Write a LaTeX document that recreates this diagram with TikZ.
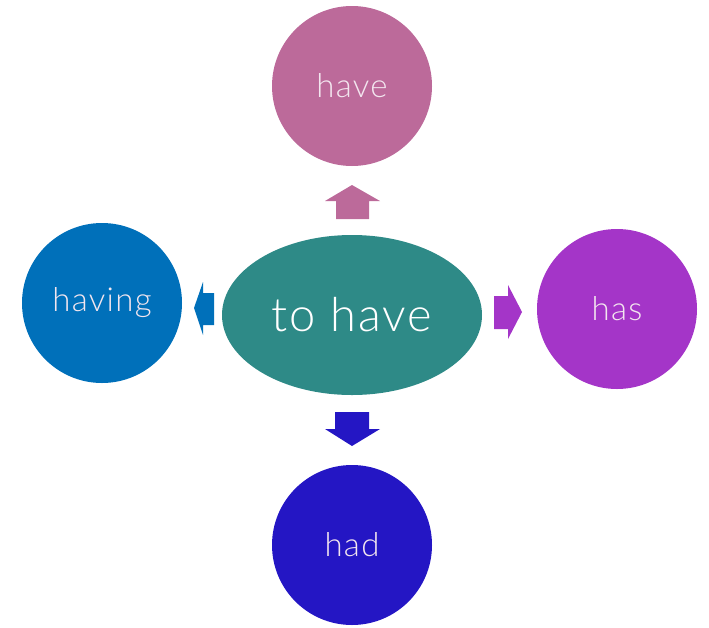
\documentclass[tikz,border=0pt]{standalone}
\usepackage{fontspec}
\usetikzlibrary{shapes.geometric}
\setmainfont{Lato}[UprightFont=* Light, LetterSpace=4]
\begin{document}
\begin{tikzpicture}[x=1pt,y=-1pt,
  bubble/.style={circle, minimum size=160pt, inner sep=0pt, text=#1, font=\fontsize{33}{36}\selectfont},
  blockarrow/.style={fill=#1, draw=none}]
\useasboundingbox (0,0) rectangle (709,627);
\definecolor{cHave}{HTML}{BC6A9A}
\definecolor{cHaving}{HTML}{0070BA}
\definecolor{cHas}{HTML}{A435C8}
\definecolor{cHad}{HTML}{2416C4}
\definecolor{cCore}{HTML}{2E8A87}
\definecolor{lbl}{HTML}{F3E6EF}

% centre ellipse
\node[ellipse, fill=cCore, minimum width=260pt, minimum height=160pt, inner sep=0pt,
      text=white, font=\fontsize{47}{50}\selectfont] (core) at (352,315) {to have};

% outer forms
\node[bubble=lbl, fill=cHave]   (have)   at (352,86)  {have};
\node[bubble=lbl, fill=cHaving] (having) at (102,303) {having};
\node[bubble=lbl, fill=cHas]    (has)    at (617,309) {has};
\node[bubble=lbl, fill=cHad]    (had)    at (352,545) {had};

% block arrows pointing from the centre to each form
\fill[blockarrow=cHave] (336,219) -- (336,201) -- (325,201) -- (352,185) -- (380,201) -- (369,201) -- (369,219) -- cycle;
\fill[blockarrow=cHaving] (214,293) -- (203,293) -- (203,282) -- (194,308) -- (203,335) -- (203,325) -- (214,325) -- cycle;
\fill[blockarrow=cHas] (494,296) -- (508,296) -- (508,285) -- (522,312) -- (508,339) -- (508,329) -- (494,329) -- cycle;
\fill[blockarrow=cHad] (335,412) -- (369,412) -- (369,429) -- (380,429) -- (352,446) -- (325,429) -- (335,429) -- cycle;
\end{tikzpicture}
\end{document}
